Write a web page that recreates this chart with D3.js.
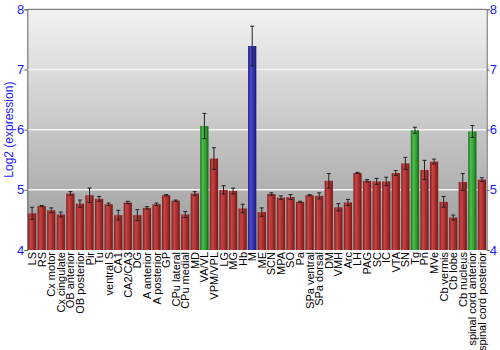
<!DOCTYPE html>
<html><head><meta charset="utf-8">
<script src="https://cdn.jsdelivr.net/npm/d3@7"></script>
<style>body{margin:0;background:#fff}svg{display:block}</style>
</head><body>
<svg id="c" width="500" height="350"></svg>
<script>
const categories = ["LS","RS","Cx motor","Cx cingulate","OB anterior","OB posterior","Pir","Tu","ventral S","CA1","CA2/CA3","DG","A anterior","A posterior","GP","CPu lateral","CPu medial","MD","VA/VL","VPM/VPL","LG","MG","Hb","M","ME","SCN","MPA","SO","Pa","SPa ventral","SPa dorsal","DM","VMH","Arc","LH","PAG","SC","IC","VTA","SN","Tg","Pn","MVe","Cb vermis","Cb lobe","Cb nucleus","spinal cord anterior","spinal cord posterior"];
const values = [4.61,4.73,4.66,4.59,4.94,4.77,4.91,4.85,4.76,4.58,4.79,4.58,4.70,4.76,4.91,4.82,4.59,4.94,6.06,5.52,5.00,4.98,4.69,7.39,4.63,4.93,4.87,4.88,4.80,4.91,4.90,5.15,4.71,4.79,5.28,5.15,5.14,5.14,5.28,5.44,5.99,5.33,5.47,4.80,4.54,5.13,5.97,5.17];
const errors = [0.10,0.01,0.04,0.04,0.03,0.06,0.12,0.04,0.02,0.08,0.02,0.09,0.02,0.02,0.01,0.01,0.05,0.03,0.21,0.18,0.07,0.05,0.07,0.33,0.07,0.02,0.03,0.04,0.01,0.01,0.05,0.12,0.06,0.05,0.01,0.02,0.05,0.07,0.04,0.10,0.05,0.16,0.04,0.09,0.04,0.14,0.10,0.03];
const groups = categories.map(c => c==="M" ? "blue" : (c==="VA/VL"||c==="Tg"||c==="spinal cord anterior") ? "green" : "red");
const yTicks = [4,5,6,7,8];

const svg = d3.select("#c");
const L = 27.3, R = 486.7, T = 9.3, B = 250;
const x = d3.scaleBand().domain(categories).range([L,R]).paddingInner(0.14).paddingOuter(0.07);
const y = d3.scaleLinear().domain([4,8]).range([B,T]);

const defs = svg.append("defs");
const bg = defs.append("linearGradient").attr("id","bg").attr("x1",0).attr("y1",0).attr("x2",0).attr("y2",1);
bg.append("stop").attr("offset","0%").attr("stop-color","#f2f2f2");
bg.append("stop").attr("offset","100%").attr("stop-color","#9a9a9a");

const pal = {red:["#7a1c1c","#c84545","#a52a2a","#6e1818"],green:["#1a6a1a","#4cc04c","#2e9a2e","#186018"],blue:["#1c1c7a","#4a4ad0","#2e2eaa","#18186e"]};
Object.entries(pal).forEach(([k,c])=>{
  const g = defs.append("linearGradient").attr("id","g_"+k).attr("x1",0).attr("y1",0).attr("x2",1).attr("y2",0);
  g.append("stop").attr("offset","0%").attr("stop-color",c[0]);
  g.append("stop").attr("offset","30%").attr("stop-color",c[1]);
  g.append("stop").attr("offset","70%").attr("stop-color",c[2]);
  g.append("stop").attr("offset","100%").attr("stop-color",c[3]);
});

svg.append("rect").attr("x",L).attr("y",T).attr("width",R-L).attr("height",B-T).attr("fill","url(#bg)");

// gridlines
svg.append("g").selectAll("line").data(yTicks.filter(t=>t>4&&t<8)).join("line")
  .attr("x1",L).attr("x2",R).attr("y1",d=>y(d)).attr("y2",d=>y(d))
  .attr("stroke","#f4f4f4").attr("stroke-width",1.5);

// bars
svg.append("g").selectAll("rect").data(categories).join("rect")
  .attr("x",d=>x(d)).attr("width",x.bandwidth())
  .attr("y",(d,i)=>y(values[i])).attr("height",(d,i)=>B-y(values[i]))
  .attr("fill",(d,i)=>"url(#g_"+groups[i]+")");

// error bars
const eb = svg.append("g").attr("stroke","#222").attr("stroke-width",1);
categories.forEach((c,i)=>{
  const cx = x(c)+x.bandwidth()/2;
  const y1 = y(values[i]+errors[i]), y2 = y(values[i]-errors[i]);
  eb.append("line").attr("x1",cx).attr("x2",cx).attr("y1",y1).attr("y2",y2);
  eb.append("line").attr("x1",cx-2).attr("x2",cx+2).attr("y1",y1).attr("y2",y1);
  eb.append("line").attr("x1",cx-2).attr("x2",cx+2).attr("y1",y2).attr("y2",y2);
});

// frame lines
svg.append("line").attr("x1",L).attr("x2",R).attr("y1",T).attr("y2",T).attr("stroke","#666");

// axes
const la = svg.append("g").attr("transform",`translate(${L},0)`).call(d3.axisLeft(y).tickValues(yTicks).tickSize(3).tickFormat(d3.format("d")));
const ra = svg.append("g").attr("transform",`translate(${R},0)`).call(d3.axisRight(y).tickValues(yTicks).tickSize(3).tickFormat(d3.format("d")));
[la,ra].forEach(a=>{
  a.select(".domain").attr("stroke","#666");
  a.selectAll(".tick line").attr("stroke","#666");
  a.selectAll("text").attr("fill","#1a1aff").style("font-family","Liberation Sans, Arial, sans-serif").style("font-size","13px");
});
la.selectAll("text").attr("x",-3);
ra.selectAll("text").attr("x",3);

// x labels
svg.append("g").selectAll("text").data(categories).join("text")
  .attr("transform",d=>`translate(${x(d)+x.bandwidth()/2+4},${B+2}) rotate(-90)`)
  .attr("text-anchor","end")
  .style("font-family","Liberation Sans, Arial, sans-serif").style("font-size","11px").attr("fill","#000")
  .text(d=>d);

// y title
svg.append("text").attr("transform",`translate(13,${(T+B)/2}) rotate(-90)`).attr("text-anchor","middle")
  .style("font-family","Liberation Sans, Arial, sans-serif").style("font-size","12px").attr("fill","#1a1aff")
  .text("Log2 (expression)");
</script>
</body></html>
